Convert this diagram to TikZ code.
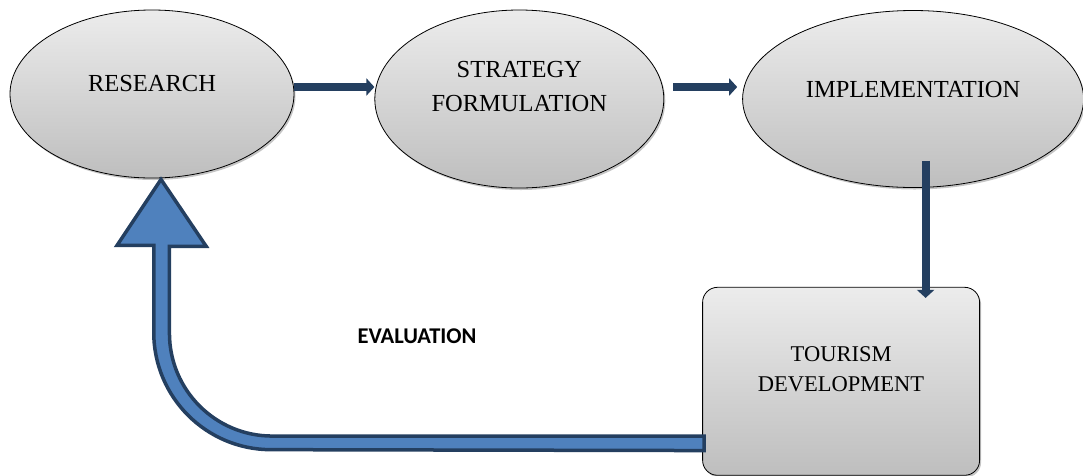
\documentclass[tikz,border=0pt]{standalone}
\usepackage{fontspec}
\setmainfont{Liberation Serif}
\newfontfamily\evalfont{Carlito}
\usetikzlibrary{arrows.meta,positioning,shapes.geometric,shadows}

\definecolor{arrnavy}{RGB}{36,63,96}
\definecolor{evblue}{RGB}{79,129,189}
\definecolor{shadetop}{RGB}{236,236,236}
\definecolor{shadebot}{RGB}{190,190,190}

\begin{document}
\begin{tikzpicture}[
  x=1pt, y=-1pt,
  every node/.style={font=\fontsize{24.5}{34}\selectfont},
  oval/.style   ={draw, line width=0.8pt, ellipse, top color=shadetop,
                  bottom color=shadebot, align=center, inner sep=0pt,
                  drop shadow={shadow xshift=1.5pt, shadow yshift=-2pt,
                               fill=black!45}},
  block/.style  ={draw, line width=0.8pt, rounded corners=15pt,
                  top color=shadetop, bottom color=shadebot, align=center,
                  inner sep=0pt, minimum width=277pt, minimum height=188pt,
                  font=\fontsize{22.5}{30}\selectfont,
                  drop shadow={shadow xshift=1.5pt, shadow yshift=-2pt,
                               fill=black!45}},
  flow/.style   ={-{Triangle[length=8pt,width=17pt]}, line width=8pt,
                  draw=arrnavy},
  evarrow/.style={draw=arrnavy, fill=evblue, line width=3.5pt,
                  line join=miter},
  evlbl/.style  ={font=\evalfont\bfseries\fontsize{22.5}{27}\selectfont}
]
\useasboundingbox (0,0) rectangle (1083,475);

\node[oval, minimum width=284pt, minimum height=168pt, text depth=22pt]
  (res) at (152,94) {RESEARCH};

\node[oval, minimum width=289pt, minimum height=178pt, text depth=26pt,
      right=80pt of res, yshift=-5pt]  (strat) {STRATEGY\\FORMULATION};

\node[oval, minimum width=341pt, minimum height=177pt, text depth=20pt,
      right=78pt of strat]             (impl)  {IMPLEMENTATION};

\node[block, text depth=24pt, below=99pt of impl, xshift=-72pt]
  (tour) {TOURISM\\DEVELOPMENT};

\node[evlbl] (evtext) at (417,336) {EVALUATION};

% Arrows main flow
\draw[flow] ([yshift=7pt]res.east) -- ([yshift=12pt]strat.west);
\draw[flow] ([xshift=9pt,yshift=12pt]strat.east)
         -- ([xshift=-5pt,yshift=12pt]impl.west);
\draw[flow] ([xshift=12.5pt,yshift=27pt]impl.south)
         -- ([xshift=84.5pt,yshift=-11pt]tour.north);

% Feedback arrow back to research
\coordinate (evfoot) at ([xshift=2pt,yshift=-62pt]tour.west);
\coordinate (evtip)  at ([xshift=9pt,yshift=-1pt]res.south);
\draw[evarrow] ([yshift=7.25pt]evfoot) -- ++(-432,0)
    arc[start angle=90, end angle=180, radius=102.75] -- ++(0,-87)
    -- ++(36.75,0) -- (evtip) -- ++(-44,66) -- ++(36.75,0) -- ++(0,87)
    arc[start angle=180, end angle=90, radius=117.25]
    -- ([yshift=-7.25pt]evfoot) -- cycle;

\end{tikzpicture}
\end{document}
